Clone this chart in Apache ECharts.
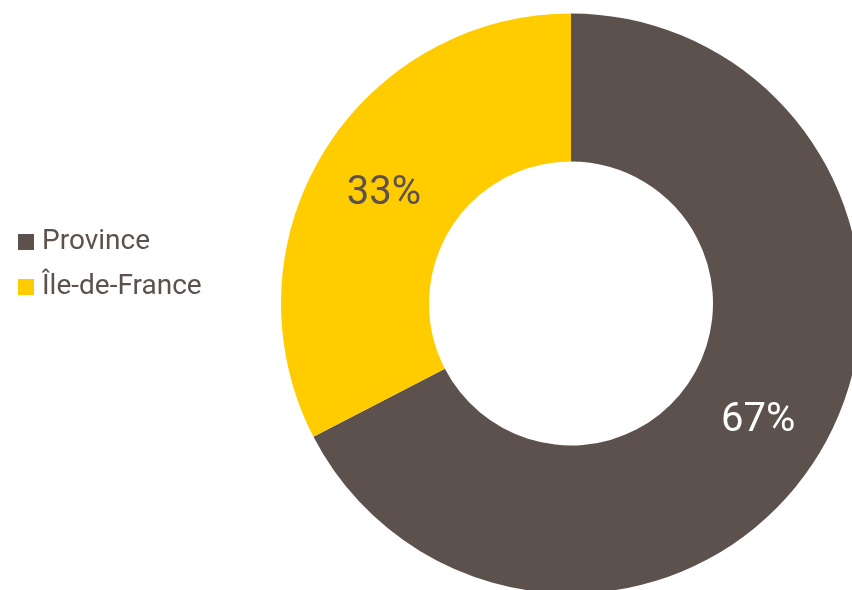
<!DOCTYPE html>
<html>
<head>
<meta charset="utf-8">
<script src="https://cdn.jsdelivr.net/npm/echarts@6/dist/echarts.min.js"></script>
<style>
html,body{margin:0;padding:0;background:#fff;}
#chart{width:852px;height:590px;}
</style>
</head>
<body>
<div id="chart"></div>
<script>
const categories = ['Province', 'Île-de-France'];
const values = [67.4, 32.6];
const colors = ['#5d514e', '#ffcc00'];
const labelColors = ['#ffffff', '#5d514e'];

const FONT = "'Liberation Sans Narrow', 'Roboto', 'Liberation Sans', sans-serif";
const chart = echarts.init(document.getElementById('chart'));
chart.setOption({
  animation: false,
  backgroundColor: '#ffffff',
  legend: {
    orient: 'vertical',
    left: 18,
    top: 227,
    padding: 0,
    itemWidth: 16,
    itemHeight: 16,
    itemGap: 15,
    icon: 'rect',
    data: categories,
    textStyle: {
      fontFamily: FONT,
      fontSize: 28,
      lineHeight: 30,
      color: '#5d514e',
      padding: [0, 0, 0, 3]
    }
  },
  series: [{
    type: 'pie',
    center: [571, 303.5],
    radius: [142, 290],
    startAngle: 90,
    clockwise: true,
    avoidLabelOverlap: false,
    label: {
      show: true,
      position: 'inside',
      fontFamily: FONT,
      fontSize: 40,
      offset: [0, 4],
      formatter: p => Math.round(p.value) + '%'
    },
    labelLine: { show: false },
    emphasis: { disabled: true },
    data: categories.map((c, i) => ({
      name: c,
      value: values[i],
      itemStyle: { color: colors[i], borderWidth: 0 },
      label: { color: labelColors[i] }
    }))
  }]
});
</script>
</body>
</html>
